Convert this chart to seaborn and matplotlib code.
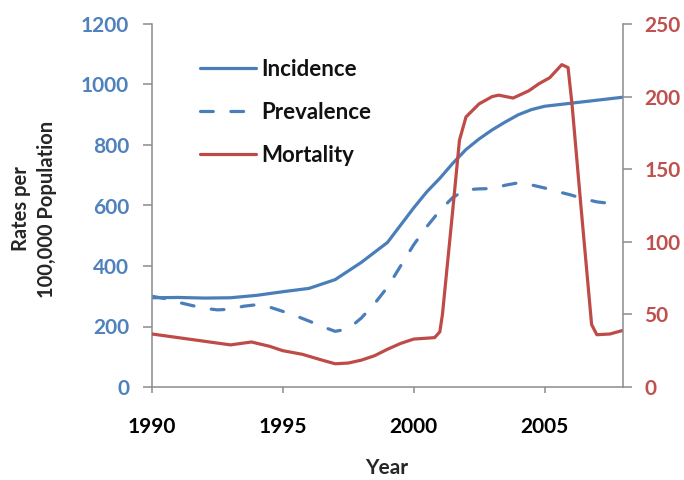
import matplotlib
matplotlib.use("Agg")
import matplotlib.pyplot as plt
import seaborn as sns
import numpy as np

# ---- data ----
inc_years = [1990, 1991, 1992, 1993, 1994, 1995, 1996, 1997, 1998, 1998.5, 1999, 1999.5,
             2000, 2000.5, 2001, 2001.5, 2002, 2002.5, 2003, 2003.5, 2004, 2004.5,
             2005, 2006, 2007, 2008]
incidence = [295, 296, 294, 295, 303, 315, 326, 355, 412, 445, 478, 535,
             592, 645, 690, 740, 785, 820, 850, 876, 900, 917,
             928, 938, 948, 958]

prev_years = [1990, 1990.5, 1991, 1991.5, 1992, 1992.5, 1993, 1993.5, 1994, 1994.5,
              1995, 1995.5, 1996, 1996.5, 1997, 1997.5, 1998, 1998.5, 1999, 1999.5,
              2000, 2000.5, 2001, 2001.5, 2002, 2002.5, 2003, 2003.5, 2004, 2004.5,
              2005, 2005.5, 2006, 2006.5, 2007, 2007.5]
prevalence = [300, 292, 280, 270, 260, 255, 257, 267, 272, 264,
              250, 235, 218, 200, 184, 192, 228, 275, 330, 400,
              470, 530, 583, 627, 652, 655, 656, 667, 675, 668,
              658, 646, 635, 622, 612, 607]

mort_years = [1990, 1991, 1992, 1993, 1993.8, 1994.5, 1995, 1995.75, 1996.5, 1997,
              1997.5, 1998, 1998.5, 1999, 1999.5, 2000, 2000.8, 2001, 2001.1, 2001.5,
              2001.75, 2002, 2002.5, 2003, 2003.25, 2003.8, 2004.4, 2004.8, 2005.2,
              2005.66, 2005.9, 2006.05, 2006.4, 2006.8, 2007, 2007.5, 2008]
mortality = [36.5, 34, 31.5, 29, 31, 28, 25, 22.5, 18.5, 16,
             16.5, 18.5, 21.5, 26, 30, 33, 34, 38, 50, 123,
             170, 186, 195, 200, 201, 199, 204, 209, 213,
             222, 220, 195, 123, 43, 36, 36.5, 39]

x_ticks = [1990, 1995, 2000, 2005]
left_ticks = [0, 200, 400, 600, 800, 1000, 1200]
right_ticks = [0, 50, 100, 150, 200, 250]
series_labels = ["Incidence", "Prevalence", "Mortality"]

# ---- style ----
sns.set_style("white")
plt.rcParams['font.family'] = ['Lato', 'DejaVu Sans']
plt.rcParams['font.weight'] = 'bold'

BLUE = "#4A7EBB"
RED = "#BE4B48"
BLUE_TXT = "#4F81BD"
RED_TXT = "#C0504D"
GRAY = "#8C8C8C"
LW = 2.3

fig = plt.figure(figsize=(6.84, 4.8), dpi=100)
ax = fig.add_axes([152/684, 1-387/480, (623-152)/684, (387-24)/480])
ax2 = ax.twinx()

sns.lineplot(x=inc_years, y=incidence, ax=ax, color=BLUE, lw=LW,
             solid_joinstyle='round', solid_capstyle='round', legend=False)
sns.lineplot(x=prev_years, y=prevalence, ax=ax, color=BLUE, lw=LW,
             linestyle=(0, (4, 5.5)), dash_capstyle='round', legend=False)
sns.lineplot(x=mort_years, y=mortality, ax=ax2, color=RED, lw=LW,
             solid_joinstyle='round', solid_capstyle='round', legend=False)

ax.set_xlim(1990, 2008)
ax.set_ylim(0, 1200)
ax2.set_ylim(0, 250)
ax.set_xticks(x_ticks)
ax.set_yticks(left_ticks)
ax2.set_yticks(right_ticks)
ax.set_xticklabels([str(v) for v in x_ticks])
ax.set_yticklabels([str(v) for v in left_ticks])
ax2.set_yticklabels([str(v) for v in right_ticks])
ax.set_xlabel("")
ax.set_ylabel("")
ax2.set_ylabel("")

for a in (ax, ax2):
    a.spines['top'].set_visible(False)
    for s in ('left', 'right', 'bottom'):
        a.spines[s].set_color(GRAY)
        a.spines[s].set_linewidth(1.1)
    a.grid(False)
ax.spines['right'].set_visible(False)
ax2.spines['left'].set_visible(False)
ax2.spines['bottom'].set_visible(False)

ax.tick_params(axis='x', bottom=True, direction='out', length=4.5, width=1.1,
               color=GRAY, pad=17, labelsize=15, labelcolor='black')
ax.tick_params(axis='y', left=True, direction='out', length=6.5, width=1.1,
               color=GRAY, pad=10, labelsize=15, labelcolor=BLUE_TXT)
ax2.tick_params(axis='y', right=True, left=False, direction='out', length=6.5, width=1.1,
                color=GRAY, pad=9, labelsize=15, labelcolor=RED_TXT)
for lab in ax.get_xticklabels() + ax.get_yticklabels() + ax2.get_yticklabels():
    lab.set_fontweight('bold')

fig.text(387/684, 1-468/480, "Year", ha='center', va='center',
         fontsize=15, fontweight='bold')
fig.text(34/684, 1-209/480, "Rates per\n100,000 Population", rotation=90,
         ha='center', va='center', multialignment='center',
         fontsize=14.5, fontweight='bold', linespacing=1.35)

handles = ax.get_lines()[:2] + ax2.get_lines()[:1]
leg = ax2.legend(handles, series_labels, loc='upper left',
                 bbox_to_anchor=(200/684, 1-59/480), bbox_transform=fig.transFigure,
                 frameon=False, borderpad=0, borderaxespad=0,
                 handlelength=2.5, handletextpad=0.25, labelspacing=0.98,
                 prop={'size': 16, 'weight': 'bold'})
for t in leg.get_texts():
    t.set_color('#111111')

fig.savefig("out.png", dpi=100)
